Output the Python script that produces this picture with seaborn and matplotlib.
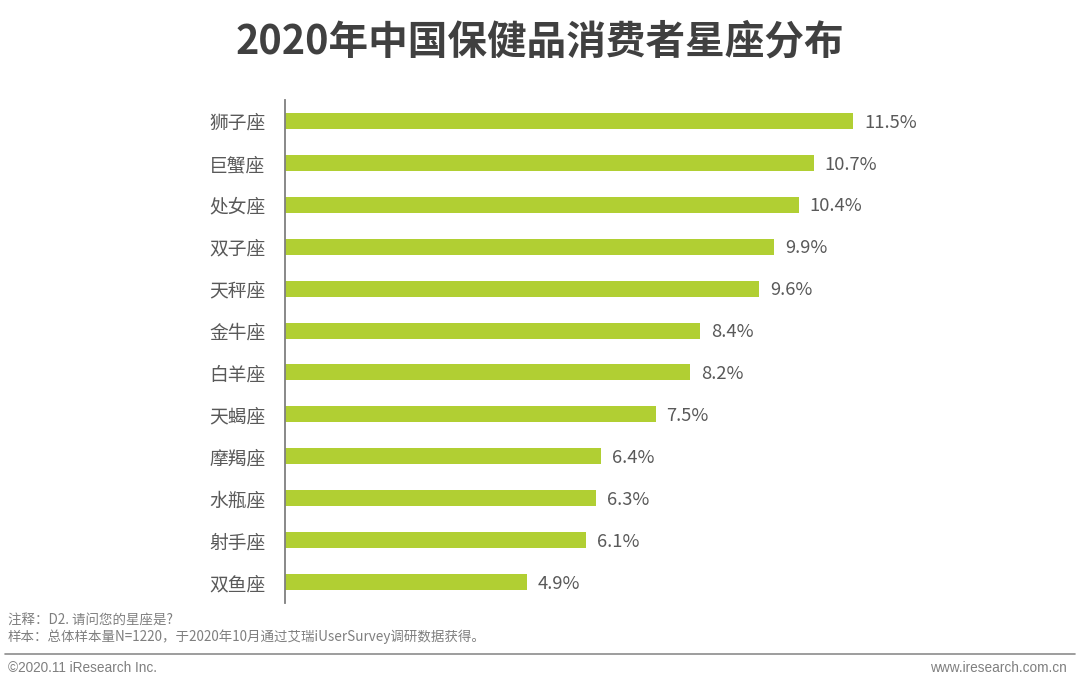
import matplotlib
matplotlib.use("Agg")
import matplotlib.pyplot as plt
import seaborn as sns
import pandas as pd

signs = ["狮子座", "巨蟹座", "处女座", "双子座", "天秤座", "金牛座",
         "白羊座", "天蝎座", "摩羯座", "水瓶座", "射手座", "双鱼座"]
shares = [11.5, 10.7, 10.4, 9.9, 9.6, 8.4, 8.2, 7.5, 6.4, 6.3, 6.1, 4.9]

title = "2020年中国保健品消费者星座分布"
note1 = "注释：D2. 请问您的星座是?"
note2 = "样本：总体样本量N=1220，于2020年10月通过艾瑞iUserSurvey调研数据获得。"
footer_left = "©2020.11 iResearch Inc."
footer_right = "www.iresearch.com.cn"

sns.set_style("white")
plt.rcParams["font.family"] = ["Noto Sans CJK SC", "DejaVu Sans"]

df = pd.DataFrame({"sign": signs, "share": shares})

fig = plt.figure(figsize=(10.8, 6.89), dpi=100)
ax = fig.add_axes([285 / 1080, 86 / 689, 715 / 1080, 503 / 689])

sns.barplot(data=df, x="share", y="sign", color="#B1CF33", width=0.38,
            saturation=1, ax=ax, edgecolor="none")

for i, v in enumerate(shares):
    ax.text(v + 0.22, i + 0.04, f"{v}%", va="center", ha="left",
            fontsize=13.2, color="#595959")

ax.set_xlim(0, 715 / 49.4)
ax.set_ylim(11.5, -0.5)
ax.set_xlabel("")
ax.set_ylabel("")
ax.set_xticks([])
ax.tick_params(axis="y", length=0, pad=14, labelsize=13.5, labelcolor="#595959")
for lbl in ax.get_yticklabels():
    lbl.set_y(lbl.get_position()[1])
for s in ["top", "right", "bottom"]:
    ax.spines[s].set_visible(False)
ax.spines["left"].set_color("#7f7f7f")
ax.spines["left"].set_linewidth(1.3)

fig.text(0.5, 1 - 42 / 689, title, ha="center", va="center",
         fontsize=28.5, fontweight="bold", color="#404040")

fig.text(8 / 1080, 1 - 620 / 689, note1, ha="left", va="center",
         fontsize=9.7, color="#7f7f7f")
fig.text(8 / 1080, 1 - 637 / 689, note2, ha="left", va="center",
         fontsize=9.7, color="#7f7f7f")

fig.add_artist(plt.Line2D([5 / 1080, 1075 / 1080], [1 - 654 / 689, 1 - 654 / 689],
                          color="#8c8c8c", linewidth=1.2))

fig.text(8 / 1080, 1 - 668 / 689, footer_left, ha="left", va="center",
         fontsize=9.8, color="#7f7f7f", family=["Liberation Sans", "DejaVu Sans"])
fig.text(1067 / 1080, 1 - 668 / 689, footer_right, ha="right", va="center",
         fontsize=9.8, color="#7f7f7f", family=["Liberation Sans", "DejaVu Sans"])

fig.savefig("out.png", dpi=100)
